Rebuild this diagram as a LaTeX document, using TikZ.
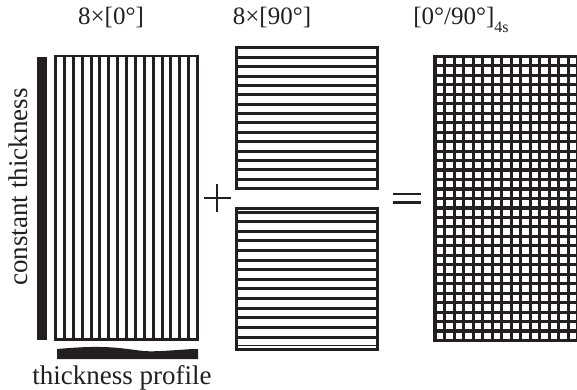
\documentclass[tikz,border=0pt]{standalone}
\usepackage{fontspec}
\setmainfont{Liberation Serif}
\definecolor{ink}{HTML}{231F20}
\tikzset{
  toplabel/.style={inner sep=0pt, text=ink, font=\fontsize{25}{25}\selectfont, anchor=base},
  sidelabel/.style={inner sep=0pt, text=ink, font=\fontsize{27}{27}\selectfont, anchor=base},
  gap/.style={fill=white},
  operator/.style={draw=ink, line cap=butt}
}
\begin{document}
\begin{tikzpicture}[x=1pt,y=-1pt]
\useasboundingbox (0,0) rectangle (577,390);

% ply labels
\node[toplabel] (lab0) at (111,25) {8×[0°]};
\node[toplabel] (lab90) at (272,25) {8×[90°]};
\node[toplabel] (lablam) at (461,25) {[0°/90°]\raisebox{-0.3em}{\fontsize{16}{16}\selectfont 4s}};

% 0 degree stack: vertical fibres
\fill[ink] (54,55) rectangle (199,341);
\foreach \i in {0,...,15}
  \fill[gap] ({57+\i*8.875},57.5) rectangle ({57+\i*8.875+5.875},338);

% constant thickness bar and its label
\fill[ink] (37,57) rectangle (47,340);
\node[sidelabel, rotate=90] (labconst) at (27,187) {constant thickness};

% thickness profile strip and its label
\fill[ink] (57,359) -- (57,349)
  .. controls (80,347) and (95,346.5) .. (110,347.3)
  .. controls (130,348.5) and (140,351.5) .. (152,351.3)
  .. controls (170,351) and (185,349) .. (198,349)
  -- (198,359) -- cycle;
\node[sidelabel] (labprof) at (122,384) {thickness profile};

% plus sign
\draw[operator, line width=1.8] (204,198) -- (231,198) (217,184) -- (217,212);

% 90 degree stack, upper half
\fill[ink] (235,46) rectangle (379,190);
\foreach \i in {0,...,14}
  \fill[gap] (238,{49.5+\i*9.367}) rectangle (376,{49.5+\i*9.367+6.367});

% 90 degree stack, lower half
\fill[ink] (235,207) rectangle (379,351);
\fill[gap] (238,209.6) rectangle (376,211);
\foreach \i in {0,...,13}
  \fill[gap] (238,{213.5+\i*9.62}) rectangle (376,{213.5+\i*9.62+6.6});
\fill[gap] (238,346.2) rectangle (376,347.6);

% equals sign
\draw[operator, line width=2.8] (393,194) -- (421,194) (393,202.3) -- (421,202.3);

% cross-ply laminate grid
\fill[ink] (433,55) rectangle (580,342);
\foreach \i in {0,...,14}
  \foreach \j in {0,...,29}
    \fill[gap] ({436.5+\i*9.5},{58+\j*9.47}) rectangle ({436.5+\i*9.5+6.5},{58+\j*9.47+6.3});
\end{tikzpicture}
\end{document}
